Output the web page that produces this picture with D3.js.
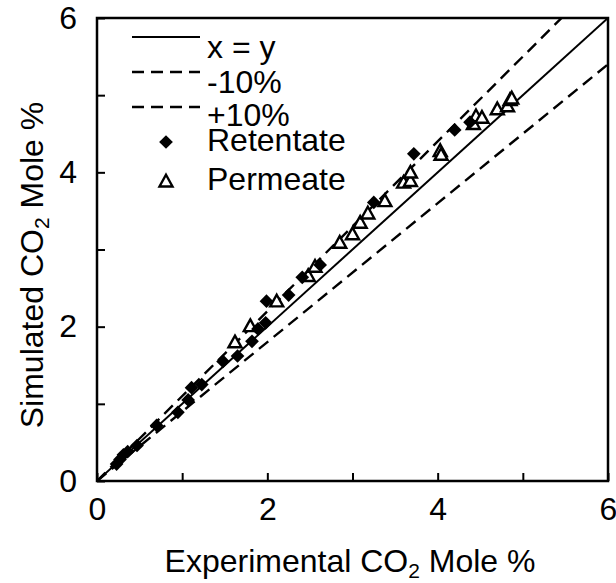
<!DOCTYPE html>
<html>
<head>
<meta charset="utf-8">
<script src="https://cdn.jsdelivr.net/npm/d3@7"></script>
<style>
  html, body { margin: 0; padding: 0; background: #fff; }
  svg text { font-family: "Liberation Sans", Arial, sans-serif; fill: #000; }
</style>
</head>
<body>
<svg id="chart" width="616" height="583"></svg>
<script>
// ---- Data ----
const xTicks = [0, 1, 2, 3, 4, 5, 6];
const xTickLabels = ["0", "", "2", "", "4", "", "6"];
const yTicks = [0, 1, 2, 3, 4, 5, 6];
const yTickLabels = ["0", "", "2", "", "4", "", "6"];

const retentateX = [0.23, 0.27, 0.31, 0.36, 0.47, 0.70, 0.95, 1.07, 1.11, 1.23, 1.48, 1.65, 1.82, 1.89, 1.98, 1.99, 2.25, 2.41, 2.62, 3.25, 3.72, 4.20, 4.38];
const retentateY = [0.22, 0.28, 0.34, 0.38, 0.46, 0.72, 0.89, 1.05, 1.21, 1.25, 1.55, 1.62, 1.81, 1.97, 2.05, 2.33, 2.41, 2.64, 2.80, 3.61, 4.24, 4.55, 4.65];

const permeateX = [1.62, 1.80, 2.11, 2.48, 2.56, 2.85, 3.00, 3.09, 3.18, 3.38, 3.60, 3.68, 3.68, 4.03, 4.04, 4.42, 4.45, 4.52, 4.70, 4.82, 4.85, 4.87];
const permeateY = [1.79, 2.00, 2.32, 2.65, 2.77, 3.08, 3.19, 3.34, 3.46, 3.62, 3.86, 3.88, 3.99, 4.27, 4.22, 4.62, 4.72, 4.70, 4.81, 4.85, 4.93, 4.95];

const refLines = [
  { name: "x = y", slope: 1.0, dash: null },
  { name: "-10%", slope: 0.9, dash: "12,7" },
  { name: "+10%", slope: 1.1, dash: "12,7" }
];
const legendLabels = ["x = y", "-10%", "+10%", "Retentate", "Permeate"];

// ---- Layout ----
const svg = d3.select("#chart");
const L = 97, R = 608, T = 18, B = 481;
const FS = 32;
const x = d3.scaleLinear().domain([0, 6]).range([L, R]);
const y = d3.scaleLinear().domain([0, 6]).range([B, T]);

svg.append("defs").append("clipPath").attr("id", "clip")
  .append("rect").attr("x", L).attr("y", T).attr("width", R - L).attr("height", B - T);

// reference lines
const g = svg.append("g").attr("clip-path", "url(#clip)");
refLines.forEach(r => {
  g.append("line")
    .attr("x1", x(0)).attr("y1", y(0))
    .attr("x2", x(6)).attr("y2", y(6 * r.slope))
    .attr("stroke", "#000")
    .attr("stroke-width", r.dash ? 2.4 : 2)
    .attr("stroke-dasharray", r.dash);
});

// frame
svg.append("rect").attr("x", L).attr("y", T).attr("width", R - L).attr("height", B - T)
  .attr("fill", "none").attr("stroke", "#000").attr("stroke-width", 2.5);

// axes (inward ticks)
const xAxis = d3.axisBottom(x).tickValues(xTicks).tickSize(-8).tickPadding(16)
  .tickFormat((d, i) => xTickLabels[i]);
const gx = svg.append("g").attr("transform", `translate(0,${B})`).call(xAxis);
gx.select(".domain").remove();
gx.selectAll("line").attr("stroke", "#000").attr("stroke-width", 2);
gx.selectAll("text").attr("font-size", FS).attr("font-family", "Liberation Sans, Arial, sans-serif");

const yAxis = d3.axisLeft(y).tickValues(yTicks).tickSize(-8).tickPadding(20)
  .tickFormat((d, i) => yTickLabels[i]);
const gy = svg.append("g").attr("transform", `translate(${L},0)`).call(yAxis);
gy.select(".domain").remove();
gy.selectAll("line").attr("stroke", "#000").attr("stroke-width", 2);
gy.selectAll("text").attr("font-size", FS).attr("font-family", "Liberation Sans, Arial, sans-serif");

// markers
const diamond = d3.symbol().type(d3.symbolDiamond2).size(120);
const tri = (cx, cy, s) => {
  const h = s * 0.9;
  return `M${cx},${cy - h * 0.62}L${cx + s / 2},${cy + h * 0.38}L${cx - s / 2},${cy + h * 0.38}Z`;
};

svg.append("g").selectAll("path").data(permeateX.map((v, i) => [v, permeateY[i]]))
  .join("path")
  .attr("d", d => tri(x(d[0]), y(d[1]), 13))
  .attr("fill", "#fff").attr("stroke", "#000").attr("stroke-width", 2.4);

svg.append("g").selectAll("path").data(retentateX.map((v, i) => [v, retentateY[i]]))
  .join("path")
  .attr("transform", d => `translate(${x(d[0])},${y(d[1])})`)
  .attr("d", diamond)
  .attr("fill", "#000");

// legend
const lg = svg.append("g");
const lineYs = [37, 72, 107];
refLines.forEach((r, i) => {
  lg.append("line").attr("x1", 132).attr("x2", 200).attr("y1", lineYs[i]).attr("y2", lineYs[i])
    .attr("stroke", "#000").attr("stroke-width", r.dash ? 2.4 : 2).attr("stroke-dasharray", r.dash);
});
const textYs = [58, 93, 126, 151, 190];
legendLabels.forEach((t, i) => {
  lg.append("text").attr("x", 207).attr("y", textYs[i]).attr("font-size", FS).text(t);
});
lg.append("path").attr("transform", "translate(166,142)").attr("d", diamond).attr("fill", "#000");
lg.append("path").attr("d", tri(166, 182, 13)).attr("fill", "#fff").attr("stroke", "#000").attr("stroke-width", 2.4);

// axis titles
const xt = svg.append("text").attr("x", 350).attr("y", 572).attr("text-anchor", "middle").attr("font-size", FS);
xt.append("tspan").text("Experimental CO");
xt.append("tspan").attr("font-size", 21).attr("dy", 6).text("2");
xt.append("tspan").attr("dy", -6).text(" Mole %");

const yt = svg.append("text").attr("transform", "translate(43,265) rotate(-90)")
  .attr("text-anchor", "middle").attr("font-size", FS);
yt.append("tspan").text("Simulated CO");
yt.append("tspan").attr("font-size", 21).attr("dy", 6).text("2");
yt.append("tspan").attr("dy", -6).text(" Mole %");
</script>
</body>
</html>
